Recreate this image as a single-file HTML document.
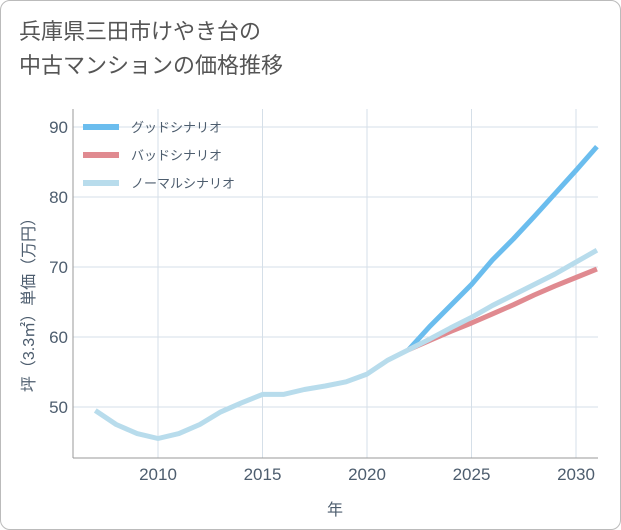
<!DOCTYPE html>
<html><head><meta charset="utf-8"><style>
body{margin:0;background:#fff;font-family:"Liberation Sans","Noto Sans CJK JP",sans-serif;}
#wrap{position:relative;width:619px;height:528px;border:1px solid #bbb;border-radius:10px;background:#fff;overflow:hidden}
#title{position:absolute;left:18px;top:14px;font-size:22px;line-height:34px;color:#555;font-family:"Liberation Sans","Noto Sans CJK JP",sans-serif}
svg{position:absolute;left:0;top:0}
</style></head><body>
<div id="wrap">
<div id="title">兵庫県三田市けやき台の<br>中古マンションの価格推移</div>
<svg id="chart" width="621" height="530"></svg>
</div>
<script>
const years=[2007,2008,2009,2010,2011,2012,2013,2014,2015,2016,2017,2018,2019,2020,2021,2022];
const histValues=[49.5,47.5,46.2,45.5,46.2,47.5,49.3,50.6,51.8,51.8,52.5,53,53.6,54.7,56.7,58.2];
const futYears=[2022,2023,2024,2025,2026,2027,2028,2029,2030,2031];
const goodValues=[58.2,61.5,64.5,67.5,71,74,77.2,80.5,83.8,87.2];
const badValues=[58.2,59.5,60.8,62,63.3,64.6,66,67.3,68.5,69.7];
const normalValues=[58.2,59.7,61.3,62.8,64.5,66,67.5,69,70.7,72.4];
const xTicks=[2010,2015,2020,2025,2030];
const yTicks=[50,60,70,80,90];
const NS="http://www.w3.org/2000/svg";
const svg=document.getElementById('chart');
const L=72,R=597,T=108,B=457;
const TC='#4d5d6e';
const x=v=>157+(v-2010)*20.9;
const y=v=>406-(v-50)*7;
function mk(t,a){const e=document.createElementNS(NS,t);for(const k in a)e.setAttribute(k,a[k]);svg.appendChild(e);return e;}
xTicks.forEach(t=>{const g=mk('line',{x1:x(t),x2:x(t),y1:T,y2:B,stroke:'#d5dfe8','stroke-width':1});


const l=mk('text',{x:x(t),y:B+22,'text-anchor':'middle','font-size':17,fill:TC});l.textContent=t;

});
yTicks.forEach(t=>{const g=mk('line',{x1:L,x2:R,y1:y(t),y2:y(t),stroke:'#d5dfe8','stroke-width':1});


const l=mk('text',{x:L-5,y:y(t)+6,'text-anchor':'end','font-size':17,fill:TC});l.textContent=t;

});
const ax=mk('line',{x1:L,x2:L,y1:T,y2:B,stroke:'#999'});


const bx=mk('line',{x1:L,x2:R,y1:B,y2:B,stroke:'#999'});


function line(xs,vs,c,n){const p=mk('polyline',{points:xs.map((t,i)=>x(t)+','+y(vs[i])).join(' '),fill:'none',stroke:c,'stroke-width':5,'stroke-linejoin':'round'});

}
line(futYears,goodValues,'#6bbdee','good-scenario-line');
line(futYears,badValues,'#e08a90','bad-scenario-line');
line(futYears,normalValues,'#b8dcec','normal-scenario-line');
line(years,histValues,'#b8dcec','historical-line');
const leg=[['グッドシナリオ','#6bbdee'],['バッドシナリオ','#e08a90'],['ノーマルシナリオ','#b8dcec']];
leg.forEach((d,i)=>{const yy=126+i*28;
const s=mk('line',{x1:82,x2:118,y1:yy,y2:yy,stroke:d[1],'stroke-width':6});


const t=mk('text',{x:130,y:yy+5,'font-size':13,fill:TC});t.textContent=d[0];

});
const xt=mk('text',{x:334,y:514,'text-anchor':'middle','font-size':16,fill:TC});xt.textContent='年';


const yt=mk('text',{x:0,y:0,'text-anchor':'middle','font-size':16,fill:TC,transform:'translate(33,300) rotate(-90)'});yt.textContent='坪（3.3㎡）単価（万円）';


</script>
</body></html>
